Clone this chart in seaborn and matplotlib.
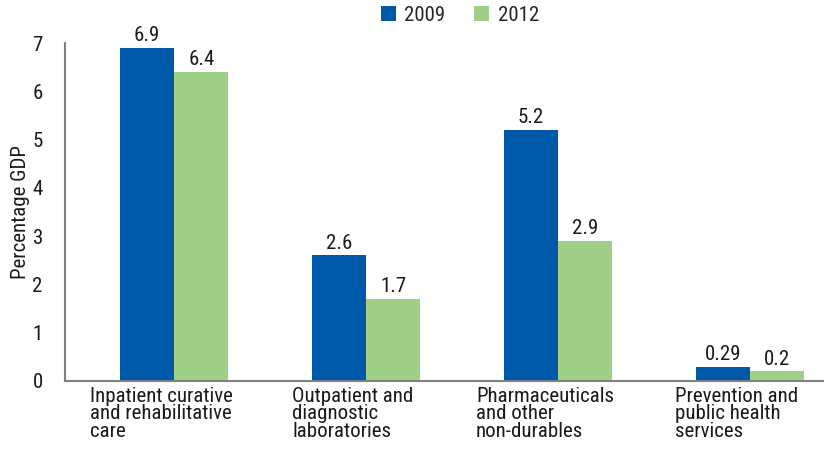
import matplotlib
matplotlib.use("Agg")
import matplotlib.pyplot as plt
from matplotlib import font_manager
import seaborn as sns
import pandas as pd

categories = ["Inpatient curative\nand rehabilitative\ncare",
              "Outpatient and\ndiagnostic\nlaboratories",
              "Pharmaceuticals\nand other\nnon-durables",
              "Prevention and\npublic health\nservices"]
years = ["2009", "2012"]
values_2009 = [6.9, 2.6, 5.2, 0.29]
values_2012 = [6.4, 1.7, 2.9, 0.2]
labels_2009 = ["6.9", "2.6", "5.2", "0.29"]
labels_2012 = ["6.4", "1.7", "2.9", "0.2"]

df = pd.DataFrame({
    "category": categories * 2,
    "year": [years[0]] * 4 + [years[1]] * 4,
    "value": values_2009 + values_2012,
})

sns.set_theme(style="white")
names = {f.name for f in font_manager.fontManager.ttflist}
fam = [n for n in ["Liberation Sans Narrow", "Roboto Condensed", "Liberation Sans"] if n in names]
plt.rcParams["font.family"] = fam + ["DejaVu Sans"]

fig = plt.figure(figsize=(8.24, 4.53), dpi=100)
ax = fig.add_axes([0.079, 0.159, 0.921, 0.746])

sns.barplot(data=df, x="category", y="value", hue="year",
            palette=["#0058a8", "#a0d088"], width=0.565, saturation=1,
            linewidth=0, ax=ax)

for cont, labs in zip(ax.containers, [labels_2009, labels_2012]):
    ax.bar_label(cont, labels=labs, padding=2, fontsize=15, color="#1a1a1a")

# bars sit a little right of the category slot centres in the original
off = 0.068
ax.set_ylim(0, 7)
ax.set_xlim(-0.5 - off, 3.385)
ax.set_yticks(range(0, 8))
ax.tick_params(axis="y", labelsize=15, length=0, pad=16, colors="#1a1a1a")
ax.set_xticks([i - off for i in range(4)])
ax.set_xticklabels(categories)
ax.tick_params(axis="x", which="major", labelsize=15, length=0, pad=4, colors="#1a1a1a")
for t in ax.get_xticklabels():
    t.set_multialignment("left")
    t.set_linespacing(0.9)
ax.set_xticks([i - 0.5 - off for i in range(4)], minor=True)
ax.tick_params(axis="x", which="minor", length=6, width=1.5, color="#808080")
ax.set_xlabel("")
ax.set_ylabel("Percentage GDP", fontsize=15, color="#1a1a1a", labelpad=2)

for s in ["top", "right"]:
    ax.spines[s].set_visible(False)
for s in ["left", "bottom"]:
    ax.spines[s].set_color("#808080")
    ax.spines[s].set_linewidth(1.5)

ax.legend(loc="upper center", bbox_to_anchor=(0.52, 1.165), ncol=2, frameon=False,
          fontsize=15, handlelength=0.75, handleheight=0.75, columnspacing=1.35,
          handletextpad=0.4)

fig.savefig("out.png", dpi=100)
